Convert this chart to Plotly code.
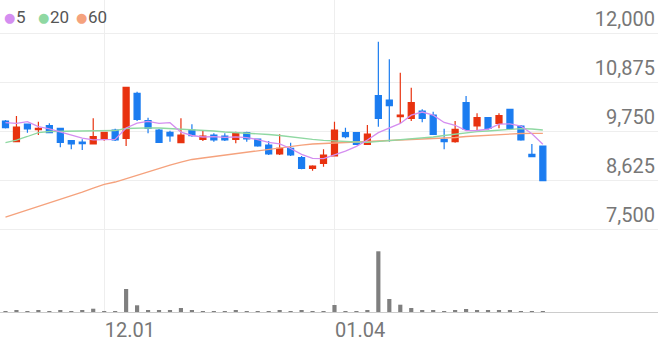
import plotly.graph_objects as go

dates = ["11.18", "11.19", "11.20", "11.23", "11.24", "11.25", "11.26", "11.27", "11.30",
         "12.01", "12.02", "12.03", "12.04", "12.07", "12.08", "12.09", "12.10", "12.11",
         "12.14", "12.15", "12.16", "12.17", "12.18", "12.21", "12.22", "12.23", "12.24",
         "12.28", "12.29", "12.30",
         "01.04", "01.05", "01.06", "01.07", "01.08", "01.11", "01.12", "01.13", "01.14",
         "01.15", "01.18", "01.19", "01.20", "01.21", "01.22", "01.25", "01.26", "01.27",
         "01.28", "01.29"]

opens = [9979, 9504, 9911, 9780, 9872, 9812, 9527, 9497, 9451, 9566,
         9773, 9582, 10615, 9986, 9773, 9720, 9481, 9773, 9559, 9658,
         9635, 9559, 9711, 9566, 9428, 9222, 9353, 9137, 8894, 9008,
         9176, 9711, 9711, 9445, 10560, 10462, 10078, 10042, 10209, 10117,
         9559, 9504, 10400, 9865, 10055, 9927, 10248, 9865, 9215, 9406]
highs = [10002, 10094, 9911, 9963, 9927, 9826, 9527, 9559, 10042, 9720,
         9800, 10767, 10652, 10055, 9796, 9757, 10042, 9904, 9773, 9697,
         9697, 9734, 9734, 9566, 9520, 9674, 9481, 9176, 8962, 9330,
         9963, 9826, 9711, 9888, 11800, 11396, 11088, 10744, 10248, 10193,
         9800, 9980, 10554, 10156, 10055, 10156, 10248, 9888, 9451, 9406]
lows = [9807, 9500, 9711, 9658, 9700, 9376, 9330, 9314, 9451, 9527,
        9520, 9406, 9980, 9697, 9490, 9504, 9481, 9619, 9520, 9504,
        9520, 9468, 9504, 9390, 9199, 9199, 9176, 8871, 8838, 8930,
        9176, 9582, 9428, 9445, 9849, 9504, 9927, 9980, 9950, 9674,
        9330, 9481, 9757, 9757, 9773, 9812, 9773, 9527, 9160, 8609]
closes = [9826, 9842, 9796, 9812, 9711, 9490, 9451, 9458, 9619, 9720,
          9543, 10753, 10019, 9812, 9490, 9635, 9658, 9642, 9635, 9543,
          9543, 9711, 9566, 9406, 9222, 9353, 9199, 8894, 8946, 9199,
          9773, 9619, 9445, 9681, 10042, 10331, 10117, 10400, 10042, 9674,
          9504, 9789, 9789, 10055, 9812, 10101, 9812, 9543, 9160, 8609]

ma5 = [9941, 9927, 9963, 9849, 9797, 9730, 9652, 9584, 9546, 9548,
       9558, 9819, 9931, 9969, 9923, 9942, 9723, 9647, 9612, 9623,
       9604, 9615, 9600, 9554, 9490, 9452, 9349, 9215, 9123, 9118,
       9202, 9286, 9396, 9543, 9712, 9824, 9923, 10114, 10186, 10113,
       9947, 9882, 9760, 9762, 9790, 9909, 9914, 9865, 9686, 9445]
ma20 = [9481, 9543, 9624, 9715, 9738, 9743, 9745, 9745, 9750, 9750,
        9761, 9807, 9823, 9823, 9819, 9807, 9796, 9784, 9773, 9750,
        9727, 9715, 9704, 9692, 9670, 9647, 9612, 9582, 9559, 9536,
        9520, 9509, 9497, 9490, 9509, 9532, 9555, 9578, 9596, 9612,
        9647, 9681, 9704, 9734, 9750, 9773, 9789, 9803, 9796, 9773]
ma60 = [7775, 7856, 7936, 8016, 8097, 8177, 8258, 8349, 8441, 8522,
        8579, 8659, 8740, 8820, 8900, 8969, 9038, 9096, 9130, 9164,
        9187, 9222, 9256, 9291, 9325, 9371, 9406, 9428, 9451, 9468,
        9474, 9486, 9497, 9509, 9520, 9532, 9543, 9555, 9566, 9578,
        9582, 9601, 9624, 9640, 9653, 9670, 9681, 9693, 9697, 9697]

volumes = [50000, 100000, 48000, 52000, 50000, 65000, 47000, 51000, 165000, 50000,
           49000, 1150000, 335000, 100000, 85000, 65000, 200000, 65000, 50000, 48000,
           50000, 52000, 47000, 50000, 49000, 85000, 50000, 65000, 48000, 50000,
           350000, 50000, 49000, 100000, 3035000, 650000, 365000, 200000, 65000, 65000,
           50000, 100000, 150000, 65000, 65000, 85000, 65000, 50000, 48000, 50000]

price_ticks = [7500, 8625, 9750, 10875, 12000]
date_ticks = ["12.01", "01.04"]
ma_labels = ["5", "20", "60"]

RED = "#e8320f"
BLUE = "#1b7cf0"
MA_COLORS = ["#d48ef0", "#8fd8a2", "#f5a27d"]

fig = go.Figure()
for vals, col in zip([ma60, ma20, ma5], MA_COLORS[::-1]):
    fig.add_trace(go.Scatter(x=dates, y=vals, mode="lines",
                             line=dict(color=col, width=1.3),
                             hoverinfo="skip", showlegend=False,
                             xaxis="x", yaxis="y"))

fig.add_trace(go.Candlestick(
    x=dates, open=opens, high=highs, low=lows, close=closes,
    increasing=dict(line=dict(color=RED, width=1.2), fillcolor=RED),
    decreasing=dict(line=dict(color=BLUE, width=1.2), fillcolor=BLUE),
    whiskerwidth=0, showlegend=False, hoverinfo="skip",
    xaxis="x", yaxis="y"))

fig.add_trace(go.Bar(x=dates, y=volumes, marker=dict(color="#7f7f7f", line=dict(width=0)),
                     showlegend=False, hoverinfo="skip", xaxis="x", yaxis="y2"))

price_top = 12757.6
price_bot = 7247.5
vol_max = max(volumes) * 72 / 60.7

fig.update_layout(
    width=658, height=342,
    margin=dict(l=0, r=0, t=0, b=30),
    paper_bgcolor="white", plot_bgcolor="white",
    showlegend=False,
    boxgap=0.45, boxgroupgap=0,
    bargap=0.62,
    font=dict(family="Roboto", color="#777"),
    xaxis=dict(type="category", categoryorder="array", categoryarray=dates,
               range=[-0.5, 59.5], tickvals=date_ticks, ticktext=date_ticks,
               showgrid=True, gridcolor="#eeeeee", gridwidth=1,
               showline=True, linecolor="#cccccc", linewidth=1,
               ticks="", ticklabelposition="outside right",
               tickfont=dict(size=20, color="#777"),
               rangeslider=dict(visible=False), anchor="y2", fixedrange=True,
               zeroline=False),
    yaxis=dict(domain=[72 / 312, 1], range=[price_bot, price_top],
               side="right", tickvals=price_ticks, tickformat=",d",
               ticklabelposition="inside top", ticks="",
               tickfont=dict(size=20, color="#777"),
               showgrid=True, gridcolor="#eeeeee", gridwidth=1,
               zeroline=False, showline=False, fixedrange=True),
    yaxis2=dict(domain=[0, 72 / 312], range=[0, vol_max], showgrid=False,
                showticklabels=False, zeroline=False, showline=False, ticks="",
                fixedrange=True),
)

dot_x = [2, 36, 74]
lab_x = [14, 48, 86]
for i, lab in enumerate(ma_labels):
    fig.add_annotation(x=dot_x[i], y=17, xref="paper", yref="paper", text="●",
                       showarrow=False, xanchor="left", yanchor="middle",
                       font=dict(size=13, color=MA_COLORS[i], family="DejaVu Sans"))
    fig.add_annotation(x=lab_x[i], y=17, xref="paper", yref="paper", text=lab,
                       showarrow=False, xanchor="left", yanchor="middle",
                       font=dict(size=17, color="#555", family="Roboto"))

# convert pixel positions of annotations to paper coords
for a in fig.layout.annotations:
    a.x = a.x / 658
    a.y = 1 - (a.y) / 312 + 0  # paper y relative to plot area (t=0, height 312)

fig.write_html("out.html")
